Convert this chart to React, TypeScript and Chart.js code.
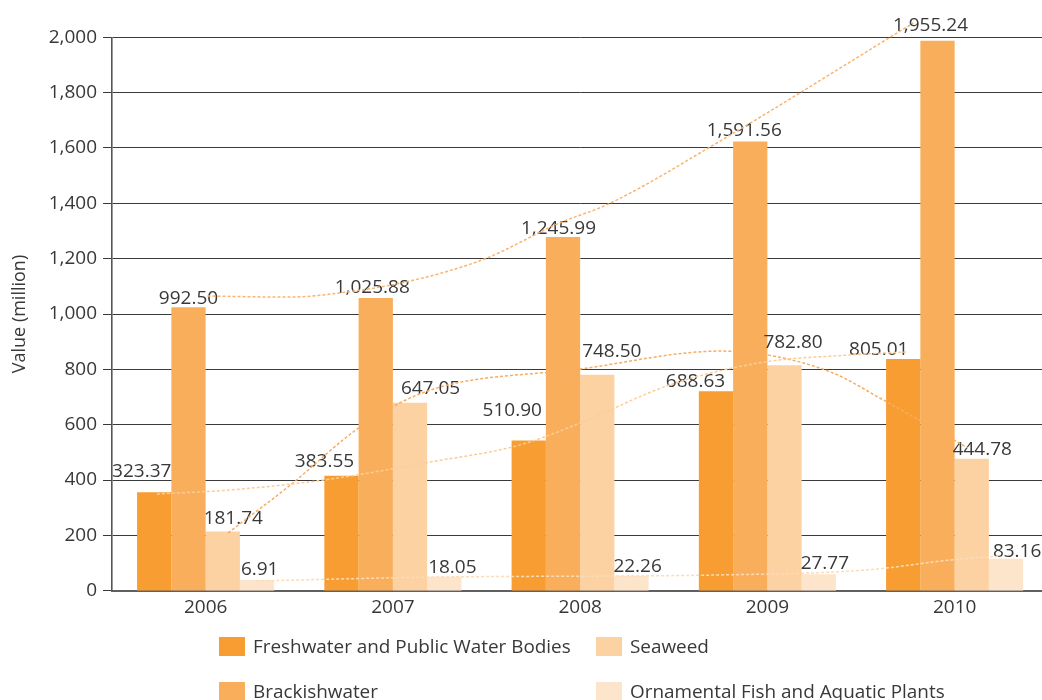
import React, { useEffect, useRef } from "react";
import { Chart, registerables } from "chart.js";

Chart.register(...registerables);

// ---------- data ----------
const years = ["2006", "2007", "2008", "2009", "2010"];
const freshwater = [323.37, 383.55, 510.9, 688.63, 805.01];
const brackishwater = [992.5, 1025.88, 1245.99, 1591.56, 1955.24];
const seaweed = [181.74, 647.05, 748.5, 782.8, 444.78];
const ornamental = [6.91, 18.05, 22.26, 27.77, 83.16];

const seriesNames = [
  "Freshwater and Public Water Bodies",
  "Brackishwater",
  "Seaweed",
  "Ornamental Fish and Aquatic Plants",
];

const yTickValues = [0, 200, 400, 600, 800, 1000, 1200, 1400, 1600, 1800, 2000];

// dotted trend curves as [category position, value]
const freshwaterTrend = [
  [-0.26, 349], [0.13, 364], [0.63, 400], [1.2, 465], [1.68, 527],
  [2.0, 606], [2.48, 744], [2.98, 826], [3.44, 852], [3.75, 863],
];
const brackishTrend = [
  [0.01, 1065], [0.44, 1061], [0.76, 1080], [1.09, 1119], [1.49, 1199],
  [1.89, 1329], [2.15, 1397], [2.73, 1618], [3.78, 2052],
];
const seaweedTrend = [
  [0.12, 209], [0.44, 375], [0.84, 599], [1.2, 725], [2.0, 801],
  [2.75, 866], [3.0, 852], [3.35, 787], [3.62, 689], [4.07, 516],
];
const ornamentalTrend = [
  [0.27, 35], [1.2, 49], [2.75, 57], [3.53, 75], [3.98, 111], [4.24, 125],
];

// ---------- styling ----------
const BAR_COLORS = ["#F79D32", "#F9AE5B", "#FCD2A3", "#FDE5CB"];
const TREND_COLORS = ["#FBCD98", "#F9B470", "#F8AD62", "#FCDCB8"];
const TEXT_COLOR = "#383838";
const FONT = '"Open Sans", "Noto Sans", sans-serif';
const BAR_SHIFT = 32; // the original draws bars slightly above their value

const CANVAS_W = 1060;
const CANVAS_H = 700;
const PLOT = { left: 112, right: 11.75, top: 37.3, bottom: 109.3 };

// label placement per series (styling, not data)
const labelAlign = ["right", "center", "left", "left"];
const labelDx = [
  [0, -4.5, -4, -8, -12],
  [0, -3.5, -4.5, -6, -7],
  [-2, 8, 2, -4, -2],
  [1, 1, -1, -1, 4],
];
const labelGap = [
  [15, 9, 24, 4, 4],
  [3, 5, 3, 5, 10],
  [8, 9, 18, 17, 4],
  [5, 4, 4, 5, 2],
];

const legendLayout = [
  { series: 0, col: 0, row: 0 },
  { series: 2, col: 1, row: 0 },
  { series: 1, col: 0, row: 1 },
  { series: 3, col: 1, row: 1 },
];
const LEGEND_COL_X = [219, 596];
const LEGEND_ROW_Y = [637, 682];

const fmt = (v: number) =>
  v.toLocaleString("en-US", { minimumFractionDigits: 2, maximumFractionDigits: 2 });

const barSeries = [freshwater, brackishwater, seaweed, ornamental];
const trendSeries = [freshwaterTrend, brackishTrend, seaweedTrend, ornamentalTrend];

const dataLabelPlugin = {
  id: "dataLabels",
  afterDatasetsDraw(chart: any) {
    const ctx = chart.ctx;
    ctx.save();
    ctx.font = `19px ${FONT}`;
    ctx.fillStyle = TEXT_COLOR;
    ctx.textBaseline = "alphabetic";
    chart.data.datasets.forEach((ds: any, di: number) => {
      const s = ds.seriesIndex;
      const meta = chart.getDatasetMeta(di);
      meta.data.forEach((el: any, i: number) => {
        const text = fmt(barSeries[s][i]);
        const align = labelAlign[s];
        let x = el.x;
        if (align === "right") x = el.x + el.width / 2;
        if (align === "left") x = el.x - el.width / 2;
        x += labelDx[s][i];
        ctx.textAlign = align;
        ctx.fillText(text, x, el.y - labelGap[s][i]);
      });
    });
    ctx.restore();
  },
};

const legendPlugin = {
  id: "gridLegend",
  afterDraw(chart: any) {
    const ctx = chart.ctx;
    ctx.save();
    ctx.font = `18.9px ${FONT}`;
    ctx.textBaseline = "alphabetic";
    ctx.textAlign = "left";
    legendLayout.forEach((it) => {
      const x = LEGEND_COL_X[it.col];
      const y = LEGEND_ROW_Y[it.row];
      ctx.fillStyle = BAR_COLORS[it.series];
      ctx.fillRect(x, y, 26, 19);
      ctx.fillStyle = TEXT_COLOR;
      ctx.fillText(seriesNames[it.series], x + 34, y + 16);
    });
    ctx.restore();
  },
};

export default function App() {
  const barRef = useRef<HTMLCanvasElement | null>(null);
  const lineRef = useRef<HTMLCanvasElement | null>(null);

  useEffect(() => {
    const barCanvas = barRef.current;
    const lineCanvas = lineRef.current;
    if (!barCanvas || !lineCanvas) return;

    const barDatasets = barSeries.map((values, s) => ({
      label: seriesNames[s],
      seriesIndex: s,
      data: values,
      backgroundColor: BAR_COLORS[s],
      borderWidth: 0,
      base: -BAR_SHIFT,
      yAxisID: "yb",
      categoryPercentage: 0.732,
      barPercentage: 1.0,
    }));

    const barChart = new Chart(barCanvas, {
      type: "bar",
      data: { labels: years, datasets: barDatasets as any[] },
      options: {
        responsive: false,
        animation: false,
        devicePixelRatio: 1,
        layout: { padding: { left: 0, right: PLOT.right, top: PLOT.top, bottom: 0 } },
        plugins: {
          legend: { display: false },
          tooltip: { enabled: false },
          title: { display: false },
        },
        scales: {
          x: {
            type: "category",
            offset: true,
            grid: { display: false, drawTicks: true, tickLength: 5 },
            border: { display: true, color: "#606060", width: 2 },
            ticks: {
              color: TEXT_COLOR,
              padding: 0,
              font: { family: FONT, size: 19 },
              maxRotation: 0,
            },
            afterFit: (scale: any) => {
              scale.height = PLOT.bottom;
            },
          },
          y: {
            type: "linear",
            position: "left",
            min: 0,
            max: 2000,
            afterBuildTicks: (scale: any) => {
              scale.ticks = yTickValues.map((v) => ({ value: v }));
            },
            grid: { color: "#3a3a3a", lineWidth: 1, tickLength: 9, drawTicks: true },
            border: { display: true, color: "#555555", width: 1.6 },
            ticks: {
              color: TEXT_COLOR,
              padding: 6,
              font: { family: FONT, size: 19 },
              callback: (v: any) => Number(v).toLocaleString("en-US"),
            },
            title: {
              display: true,
              text: "Value (million)",
              color: TEXT_COLOR,
              font: { family: FONT, size: 18 },
              padding: { top: 9.5, bottom: 0 },
            },
            afterFit: (scale: any) => {
              scale.width = PLOT.left;
            },
          },
          yb: {
            type: "linear",
            display: false,
            min: -BAR_SHIFT,
            max: 2000 - BAR_SHIFT,
          },
        },
      } as any,
      plugins: [dataLabelPlugin, legendPlugin],
    });

    const lineDatasets = trendSeries.map((pts, s) => ({
      label: seriesNames[s] + " trend",
      data: pts.map(([x, y]) => ({ x, y })),
      borderColor: TREND_COLORS[s],
      borderWidth: 1.5,
      borderDash: [3, 2],
      pointRadius: 0,
      fill: false,
      cubicInterpolationMode: "monotone" as const,
      clip: false as any,
    }));

    const lineChart = new Chart(lineCanvas, {
      type: "line",
      data: { datasets: lineDatasets as any[] },
      options: {
        responsive: false,
        animation: false,
        devicePixelRatio: 1,
        layout: {
          padding: { left: PLOT.left, right: PLOT.right, top: PLOT.top, bottom: PLOT.bottom },
        },
        plugins: {
          legend: { display: false },
          tooltip: { enabled: false },
          title: { display: false },
        },
        scales: {
          x: { type: "linear", display: false, offset: false, min: -0.5, max: 4.5 },
          y: { type: "linear", display: false, min: 0, max: 2000 },
        },
      } as any,
    });

    return () => {
      barChart.destroy();
      lineChart.destroy();
    };
  }, []);

  return (
    <div
      style={{
        position: "fixed",
        left: 0,
        top: 0,
        width: 1042,
        height: 700,
        overflow: "hidden",
        background: "#ffffff",
      }}
    >
      <canvas
        ref={barRef}
        width={CANVAS_W}
        height={CANVAS_H}
        style={{ position: "absolute", left: 0, top: 0, display: "block", width: CANVAS_W, height: CANVAS_H }}
      />
      <canvas
        ref={lineRef}
        width={CANVAS_W}
        height={CANVAS_H}
        style={{
          position: "absolute",
          left: 0,
          top: 0,
          display: "block",
          width: CANVAS_W,
          height: CANVAS_H,
          pointerEvents: "none",
        }}
      />
    </div>
  );
}
